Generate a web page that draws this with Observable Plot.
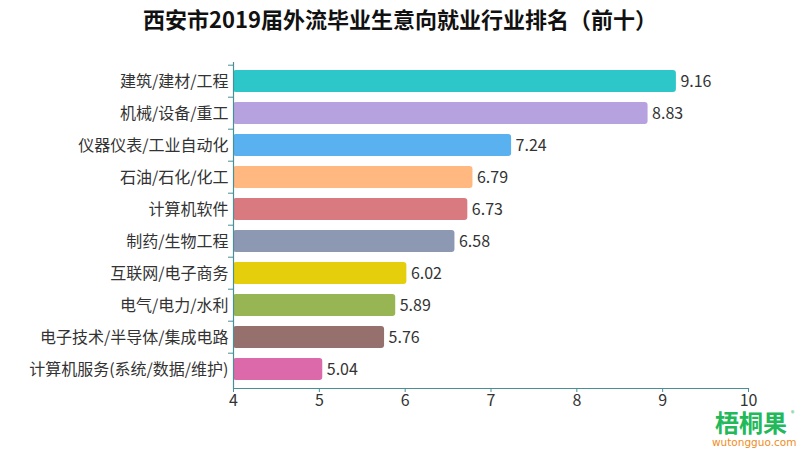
<!DOCTYPE html>
<html>
<head>
<meta charset="utf-8">
<script src="https://cdn.jsdelivr.net/npm/d3@7"></script>
<script src="https://cdn.jsdelivr.net/npm/@observablehq/plot@0.6"></script>
<style>
  html, body { margin: 0; padding: 0; background: #fff; }
  body { width: 800px; height: 450px; position: relative; overflow: hidden;
         font-family: "Noto Sans CJK SC", "Noto Sans", sans-serif; }
  #title { height: 40px; line-height: 36px; text-align: center; font-size: 22px;
           font-weight: bold; color: #111; letter-spacing: 0px; }
  #chart svg { display: block; }
  .logo-cn { position: absolute; left: 710px; top: 410px; width: 82px; text-align: center;
             font-size: 24px; font-weight: bold; color: #22b95a; line-height: 24px; }
  .logo-en { position: absolute; left: 712px; top: 437px; width: 78px; text-align: center;
             font-size: 10.5px; color: #f08c1e; line-height: 11px; font-family: "DejaVu Sans", sans-serif; }
  .logo-r { position: absolute; left: 791px; top: 410px; font-size: 7px; line-height: 7px; color: #22b95a; }
</style>
</head>
<body>
<div id="title">西安市2019届外流毕业生意向就业行业排名（前十）</div>
<div id="chart"></div>
<div class="logo-cn">梧桐果</div>
<div class="logo-en">wutongguo.com</div>
<div class="logo-r">®</div>
<script>
const categories = ["建筑/建材/工程", "机械/设备/重工", "仪器仪表/工业自动化", "石油/石化/化工", "计算机软件",
  "制药/生物工程", "互联网/电子商务", "电气/电力/水利", "电子技术/半导体/集成电路", "计算机服务(系统/数据/维护)"];
const values = [9.16, 8.83, 7.24, 6.79, 6.73, 6.58, 6.02, 5.89, 5.76, 5.04];
const colors = ["#2ec7c9", "#b6a2de", "#5ab1ef", "#ffb980", "#d87a80", "#8d98b3", "#e5cf0d", "#97b552", "#95706d", "#dc69aa"];
const xTicks = [4, 5, 6, 7, 8, 9, 10];

const data = categories.map((c, i) => ({cat: c, value: values[i], color: colors[i]}));

const W = 800, H = 410, mt = 22, mb = 62, ml = 233, mr = 52;
const step = (H - mt - mb) / categories.length;
const axisColor = "#4a8f96";

const chart = Plot.plot({
  width: W, height: H,
  marginTop: mt, marginBottom: mb, marginLeft: ml, marginRight: mr,
  style: {fontFamily: '"Noto Sans CJK SC", sans-serif', fontSize: "16px", color: "#333", background: "#fff"},
  x: {domain: [4, 10], ticks: xTicks, tickFormat: "d"},
  y: {domain: categories, paddingInner: 0.32, paddingOuter: 0.16},
  marks: [
    Plot.barX(data, {y: "cat", x1: 4, x2: "value", fill: "color", rx: 3}),
    Plot.text(data, {y: "cat", x: "value", text: d => d.value.toFixed(2), textAnchor: "start", dx: 4, fill: "#333", fontSize: 16}),
    Plot.axisY({tickSize: 0, tickPadding: 5, fontSize: 16, fill: "#333", label: null}),
    Plot.axisY({tickSize: 5, text: null, dy: -step / 2, stroke: axisColor, label: null}),
    Plot.ruleX([4], {stroke: axisColor, strokeWidth: 1.2}),
    Plot.axisX({ticks: xTicks, tickFormat: "d", tickSize: 4, tickPadding: 2, stroke: axisColor, fill: "#333", fontSize: 16, label: null}),
    Plot.frame({anchor: "bottom", stroke: axisColor, strokeWidth: 1.2})
  ]
});
document.getElementById("chart").appendChild(chart);
</script>
</body>
</html>
